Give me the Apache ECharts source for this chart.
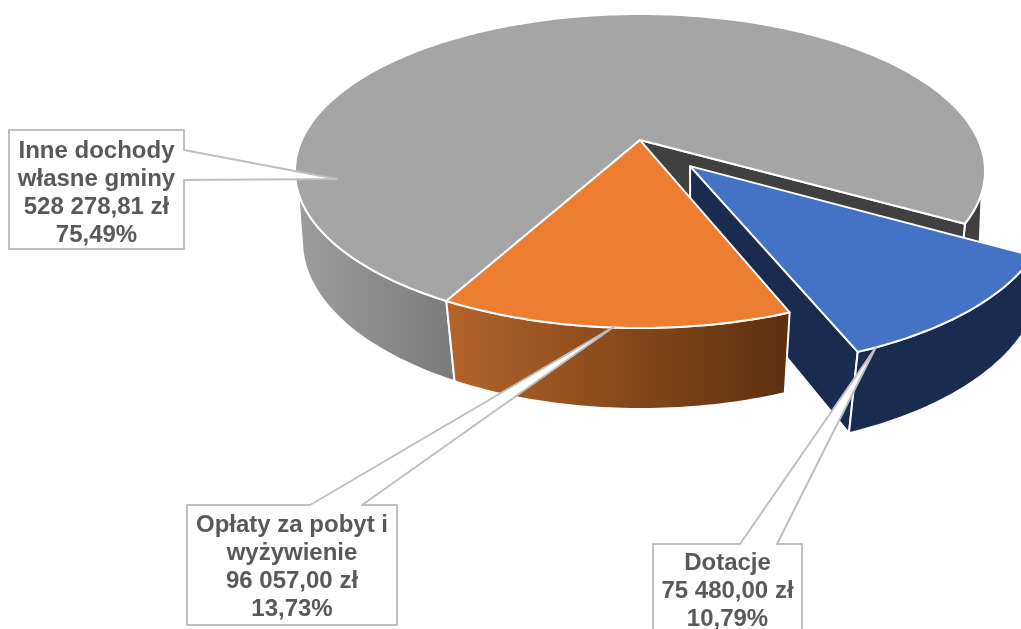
<!DOCTYPE html>
<html>
<head>
<meta charset="utf-8">
<style>html,body{margin:0;padding:0;background:#fff;overflow:hidden}#c{width:1021px;height:629px}</style>
<script src="https://cdn.jsdelivr.net/npm/echarts@6/dist/echarts.min.js"></script>
</head>
<body>
<div id="c"></div>
<script>
// Data (clockwise from the first slice)
const categories = ['Dotacje', 'Opłaty za pobyt i\nwyżywienie', 'Inne dochody\nwłasne gminy'];
const values = [75480.00, 96057.00, 528278.81];
const explode = [0.22, 0, 0];

const startAngle = 120;
const total = values.reduce((a, b) => a + b, 0);
const rad = Math.PI / 180;
const topPlane = { cx: 640, cy: 171, rx: 345, ry: 157, a: 0.197 };
const botPlane = { cx: 641, cy: 241, rx: 339, ry: 168, a: 0.173 };
const WHITE = '#ffffff';

function project(pl, u, v) { // perspective map of the unit disc (v up)
  const d = 1 + pl.a * v;
  const s = Math.sqrt(1 - pl.a * pl.a);
  return [pl.cx + pl.rx * u * s / d, pl.cy - pl.ry * (v + pl.a) / d];
}
function rimPoint(pl, deg, ox, oy) {
  return project(pl, Math.sin(deg * rad) + ox, Math.cos(deg * rad) + oy);
}
function rim(pl, a0, a1, ox, oy) {
  const n = Math.max(2, Math.ceil(Math.abs(a1 - a0)));
  const out = [];
  for (let i = 0; i <= n; i++) out.push(rimPoint(pl, a0 + (a1 - a0) * i / n, ox, oy));
  return out;
}
function linGrad(x0, x1, c0, c1) {
  return { type: 'linear', x: x0, y: 0, x2: x1, y2: 0, global: true,
    colorStops: [{ offset: 0, color: c0 }, { offset: 1, color: c1 }] };
}
function poly(points, fill, z2, stroke, lw) {
  return { type: 'polygon', z2: z2, shape: { points: points },
    style: { fill: fill, stroke: stroke === undefined ? WHITE : stroke, lineWidth: lw === undefined ? 2 : lw, lineJoin: 'round' } };
}
function fmtAmount(v) {
  const p = v.toFixed(2).split('.');
  return p[0].replace(/\B(?=(\d{3})+$)/g, ' ') + ',' + p[1] + ' zł';
}
function fmtPct(v) { return (v / total * 100).toFixed(2).replace('.', ',') + '%'; }

// call-out outlines: box [x0,y0,x1,y1], wedge attach + tip
const callouts = [
  { box: [653, 544, 802, 660], outline: b => [[b[0], b[1]], [740, b[1]], [876, 347], [777, b[1]], [b[2], b[1]], [b[2], b[3]], [b[0], b[3]]], tx: 727.5, ty: 549 },
  { box: [187, 505, 397, 625], outline: b => [[b[0], b[1]], [310, b[1]], [615, 326], [362, b[1]], [b[2], b[1]], [b[2], b[3]], [b[0], b[3]]], tx: 292, ty: 511 },
  { box: [9, 130, 184, 249], outline: b => [[b[0], b[1]], [b[2], b[1]], [b[2], 150], [337, 179], [b[2], 180], [b[2], b[3]], [b[0], b[3]]], tx: 96.5, ty: 137 }
];

function renderItem(params, api) {
  const i = params.dataIndex;
  const v = api.value(0);
  let before = 0;
  for (let k = 0; k < i; k++) before += values[k];
  const a0 = startAngle + before / total * 360;
  const a1 = a0 + v / total * 360;
  const mid = (a0 + a1) / 2;
  const ox = explode[i] * Math.sin(mid * rad);
  const oy = explode[i] * Math.cos(mid * rad);
  const apexT = project(topPlane, ox, oy);
  const apexB = project(botPlane, ox, oy);
  const kids = [];
  if (i === 2) { // grey: back of the pie
    const z = 1;
    kids.push(poly(rim(topPlane, a0, 251, 0, 0).concat(rim(botPlane, 257, a0, 0, 0)), linGrad(296, 447, '#9d9d9d', '#7c7c7c'), z));
    kids.push(poly(rim(topPlane, a1 - 11 , a1, 0, 0).concat(rim(botPlane, a1, a1 - 17, 0, 0)), '#404040', z));
    kids.push(poly([apexT, rimPoint(topPlane, a1, 0, 0), rimPoint(botPlane, a1, 0, 0), apexB], '#404040', z + 1));
    kids.push(poly([apexT].concat(rim(topPlane, a0, a1, 0, 0)), '#a5a5a5', z + 2));
  } else if (i === 0) { // blue: exploded
    const z = 10;
    kids.push(poly([apexT, rimPoint(topPlane, a1, ox, oy), rimPoint(botPlane, a1, ox, oy), apexB], '#192c50', z));
    kids.push(poly(rim(topPlane, a0, a1, ox, oy).concat(rim(botPlane, a1, a0, ox, oy)), '#192c50', z + 1));
    kids.push(poly([apexT].concat(rim(topPlane, a0, a1, ox, oy)), '#4472c4', z + 2));
  } else { // orange
    const z = 20;
    kids.push(poly(rim(topPlane, a0, a1, 0, 0).concat(rim(botPlane, a1, a0, 0, 0)), linGrad(447, 790, '#b4642a', '#5c300e'), z));
    kids.push(poly([apexT].concat(rim(topPlane, a0, a1, 0, 0)), '#ed7d31', z + 1));
  }
  const c = callouts[i];
  kids.push(poly(c.outline(c.box), WHITE, 100 + i, '#bfbfbf', 2));
  kids.push({
    type: 'text', z2: 110 + i, x: c.tx, y: c.ty,
    style: {
      text: [categories[i], fmtAmount(v), fmtPct(v)].join('\n'),
      fill: '#595959', font: 'bold 24px "Liberation Sans", Arial, sans-serif',
      lineHeight: 28, align: 'center', verticalAlign: 'top'
    }
  });
  return { type: 'group', children: kids };
}

const chart = echarts.init(document.getElementById('c'), null, { renderer: 'canvas', width: 1021, height: 629 });
chart.setOption({
  animation: false,
  backgroundColor: '#ffffff',
  series: [{
    type: 'custom',
    coordinateSystem: 'none',
    clip: false,
    renderItem: renderItem,
    data: values.map(v => [v])
  }]
});
</script>
</body>
</html>
